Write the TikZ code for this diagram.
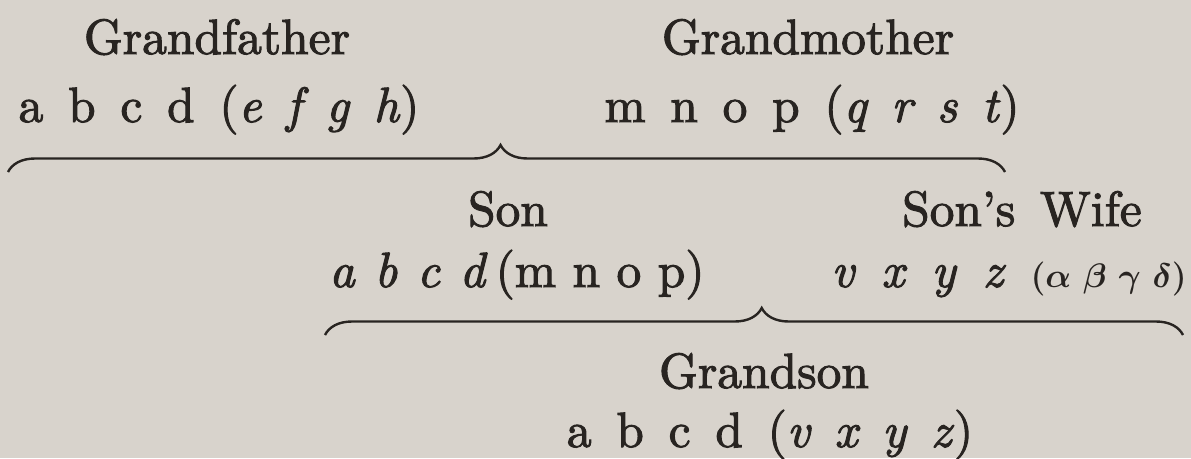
\documentclass[tikz,border=0pt]{standalone}
\usepackage{fix-cm}
\usepackage{fontspec}
\setmainfont{lmroman10-regular.otf}[FakeBold=2, ItalicFont=lmroman10-italic.otf]
\usetikzlibrary{decorations.pathreplacing}
\definecolor{paper}{RGB}{216,211,204}
\definecolor{ink}{RGB}{40,36,33}
\newcommand\gp{\hspace{0.5em}}
\newcommand\ig{\hspace{0.4em}}
\newcommand\grgap{\hspace{0.35em}}
\tikzset{
  lbl/.style={inner sep=0pt, anchor=base, text=ink, font=\fontsize{49.5}{58}\selectfont},
  brc/.style={draw=ink, line width=2.4pt, decorate, decoration={brace, amplitude=27pt}}
}
\begin{document}
\begin{tikzpicture}[x=1pt,y=-1pt]
\fill[paper] (0,0) rectangle (1191,458);
\useasboundingbox (0,0) rectangle (1191,458);
% generation 1
\node[lbl] (gf)  at (217,54) {Grandfather};
\node[lbl] (gfg) at (219,122) {a\gp b\gp c\gp d\gp(\textit{e\gp f\gp g\gp h})};
\node[lbl] (gm)  at (808,54) {Grandmother};
\node[lbl] (gmg) at (812,122) {m\gp n\gp o\gp p\gp(\textit{q\gp r\gp s\gp t})};
\coordinate (b1l) at (8,172);
\coordinate (b1r) at (1005,172);
\draw[brc, decoration={aspect=0.494}] (b1l) -- (b1r);
% generation 2
\node[lbl] (son)  at (508,226) {Son};
\node[lbl] (song) at (517,287) {\textit{a\ig b\ig c\ig d}\,(m n o p)};
\node[lbl] (sw)   at (1022,226) {Son's\hspace{0.5em}Wife};
\node[lbl] (swg)  at (1009,287) {\textit{v\hspace{0.55em}x\hspace{0.55em}y\hspace{0.55em}z}\hspace{0.5em}{\fontsize{34}{39}\selectfont\boldmath$(\alpha\grgap\beta\grgap\gamma\grgap\delta)$}};
\coordinate (b2l) at (325,335);
\coordinate (b2r) at (1183,335);
\draw[brc, decoration={aspect=0.509}] (b2l) -- (b2r);
% generation 3
\node[lbl] (gs)  at (764,388) {Grandson};
\node[lbl] (gsg) at (770,447) {a\gp b\gp c\gp d\gp(\textit{v\gp x\gp y\gp z})};
\end{tikzpicture}
\end{document}
